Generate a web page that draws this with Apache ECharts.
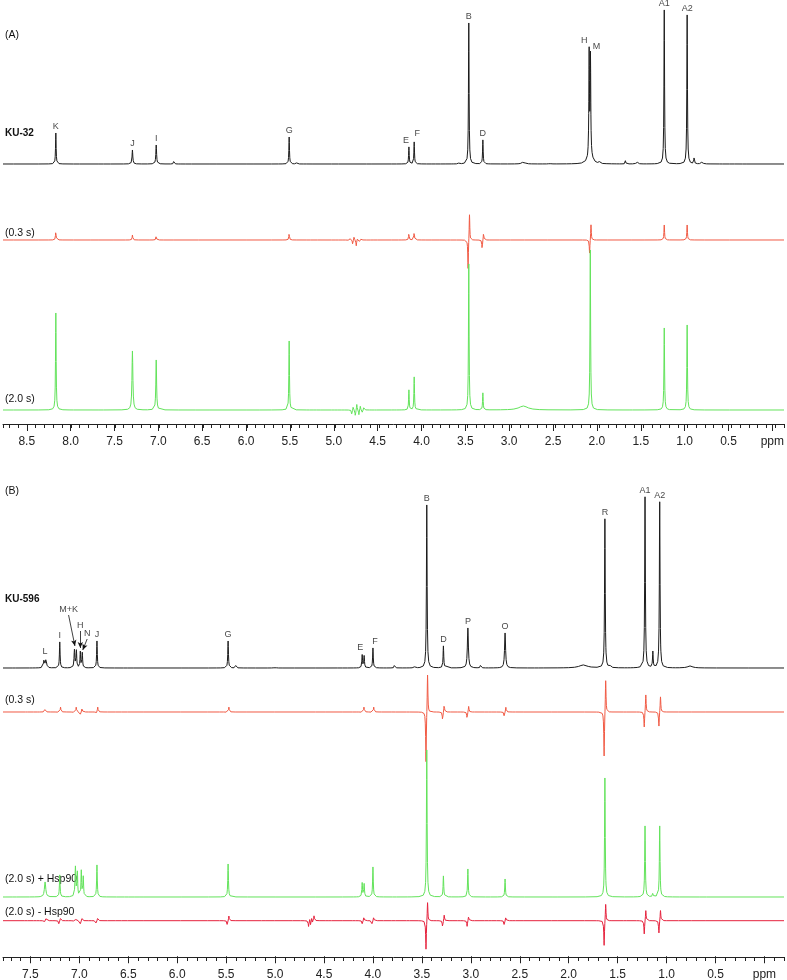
<!DOCTYPE html>
<html><head><meta charset="utf-8">
<script src="https://cdn.jsdelivr.net/npm/echarts@6/dist/echarts.min.js"></script>
<style>html,body{margin:0;padding:0;background:#fff}#c{width:787px;height:980px}</style>
</head><body><div id="c"></div>
<script>
// ================= DATA =================
// ppm axis ticks
const tickValuesA = [8.5, 8.0, 7.5, 7.0, 6.5, 6.0, 5.5, 5.0, 4.5, 4.0, 3.5, 3.0, 2.5, 2.0, 1.5, 1.0, 0.5, 0];
const tickLabelsA = ['8.5','8.0','7.5','7.0','6.5','6.0','5.5','5.0','4.5','4.0','3.5','3.0','2.5','2.0','1.5','1.0','0.5','ppm'];
const tickValuesB = [7.5, 7.0, 6.5, 6.0, 5.5, 5.0, 4.5, 4.0, 3.5, 3.0, 2.5, 2.0, 1.5, 1.0, 0.5, 0];
const tickLabelsB = ['7.5','7.0','6.5','6.0','5.5','5.0','4.5','4.0','3.5','3.0','2.5','2.0','1.5','1.0','0.5','ppm'];
const rangeA = [-0.10, 8.77];
const rangeB = [-0.20, 7.78];

// peaks: [ppm, intensity up, intensity down, linewidth(ppm, optional)]
// Panel A – KU-32 reference 1H spectrum
const ku32Ref = [
  [8.17, 31, 0], [7.30, 14, 0, 0.005], [7.03, 19, 0, 0.005], [6.83, 3, 0], [5.52, 27, 0], [5.44, 2, 0],
  [4.16, 17, 0], [4.10, 22, 0], [3.59, 3, 0, 0.003], [3.48, 141, 0], [3.32, 24, 0],
  [2.86, 2, 0, 0.02], [2.56, 2, 0], [2.113, 104, 0], [2.098, 98, 0], [2.10, 8, 0, 0.03],
  [2.00, 3, 0], [1.70, 4, 0, 0.003], [1.57, 2, 0, 0.01], [1.26, 154, 0], [1.00, 149, 0],
  [0.92, 7, 0], [0.83, 2, 0, 0.01]
];
// Panel A – STD 0.3 s
const ku32Std03 = [
  [8.17, 9, 0], [7.30, 5, 0], [7.03, 4, 0], [5.52, 7, 0],
  [4.83, 3, 2], [4.79, 4, 5], [4.75, 3, 6], [4.71, 2, 3],
  [4.16, 7, 0], [4.10, 8, 0], [3.48, 27, 30], [3.32, 8, 10], [2.10, 16, 14],
  [1.26, 15, 0], [1.00, 15, 0]
];
// Panel A – STD 2.0 s
const ku32Std20 = [
  [8.17, 97, 0], [7.30, 59, 0, 0.006], [7.03, 50, 0, 0.005], [5.52, 69, 0],
  [4.80, 4, 5], [4.76, 6, 7], [4.72, 4, 5], [4.68, 3, 3],
  [4.16, 20, 0], [4.10, 33, 0], [3.48, 146, 0], [3.32, 17, 0], [2.86, 4, 0, 0.06],
  [2.10, 160, 0], [1.26, 82, 0], [1.00, 85, 0]
];
// Panel B – KU-596 reference 1H spectrum
const ku596Ref = [
  [7.36, 9, 0, 0.006], [7.34, 9, 0, 0.006], [7.20, 26, 0], [7.05, 18, 0, 0.005], [7.03, 17, 0],
  [6.99, 16, 0], [6.97, 15, 0], [6.82, 27, 0], [5.48, 27, 0], [5.40, 3, 0], [5.00, 2, 0],
  [4.11, 13, 0], [4.09, 12, 0], [4.00, 20, 0], [3.78, 3, 0], [3.58, 2, 0],
  [3.45, 163, 0], [3.28, 22, 0], [3.03, 40, 0, 0.006], [2.90, 3, 0],
  [2.65, 35, 0, 0.006], [1.85, 3, 0, 0.05], [1.63, 149, 0], [1.57, 3, 0],
  [1.22, 171, 0], [1.14, 16, 0], [1.07, 166, 0], [0.76, 2, 0, 0.03]
];
// Panel B – STD 0.3 s
const ku596Std03 = [
  [7.35, 3, 0], [7.20, 5, 2], [7.04, 5, 3], [6.98, 4, 3], [6.82, 5, 2], [5.48, 5, 2],
  [4.10, 5, 2], [4.00, 5, 2], [3.45, 40, 52], [3.28, 8, 9], [3.03, 6, 7], [2.65, 5, 5],
  [1.63, 34, 46], [1.22, 18, 16], [1.07, 16, 15]
];
// Panel B – STD 2.0 s + Hsp90
const ku596Plus = [
  [7.35, 15, 0, 0.008], [7.20, 22, 0], [7.04, 30, 0, 0.005], [7.02, 24, 0], [6.98, 26, 0], [6.96, 20, 0],
  [6.82, 32, 0], [5.48, 33, 0], [4.11, 14, 0], [4.09, 13, 0], [4.00, 30, 0],
  [3.45, 147, 0], [3.28, 21, 0], [3.03, 28, 0], [2.65, 18, 0], [1.63, 119, 0],
  [1.22, 71, 0], [1.14, 4, 0], [1.07, 71, 0]
];
// Panel B – STD 2.0 s without Hsp90
const ku596Minus = [
  [7.35, 2, 2], [7.20, 3, 4], [7.04, 3, 3], [6.98, 3, 4], [6.82, 3, 3], [5.48, 5, 5],
  [4.65, 6, 6], [4.63, 7, 7], [4.61, 5, 5], [4.10, 4, 4], [4.00, 4, 4],
  [3.45, 20, 30], [3.28, 6, 7], [3.03, 5, 6], [2.65, 4, 5], [1.63, 18, 26],
  [1.22, 11, 14], [1.07, 11, 13]
];
// peak assignment labels: [text, ppm]
const labelsA = [['K', 8.17], ['J', 7.30], ['I', 7.03], ['G', 5.52], ['E', 4.16], ['F', 4.10], ['B', 3.48],
  ['D', 3.32], ['H', 2.113], ['M', 2.098], ['A1', 1.26], ['A2', 1.00]];
const labelsB = [['L', 7.35], ['I', 7.20], ['J', 6.82], ['G', 5.48], ['E', 4.11], ['F', 4.00], ['B', 3.45],
  ['D', 3.28], ['P', 3.03], ['O', 2.65], ['R', 1.63], ['A1', 1.22], ['A2', 1.07]];
// arrowed labels in panel B: [text, label ppm, label intensity, tip ppm, tip intensity]
const arrowLabelsB = [['M+K', 7.11, 54, 7.045, 22], ['H', 6.99, 38, 6.99, 20], ['N', 6.92, 30, 6.965, 18]];
// trace captions
const captionsA = ['(A)', 'KU-32', '(0.3 s)', '(2.0 s)'];
const captionsB = ['(B)', 'KU-596', '(0.3 s)', '(2.0 s) + Hsp90', '(2.0 s) - Hsp90'];

// ================= LAYOUT / STYLE =================
const BLACK = '#1c1c1c', RED = '#f15a44', GREEN = '#63e35b', RED2 = '#e6223d';
const FONT = '"Liberation Sans", Arial, sans-serif';
const spectra = [
  { peaks: ku32Ref,   range: rangeA, base: 164, color: BLACK },
  { peaks: ku32Std03, range: rangeA, base: 240, color: RED },
  { peaks: ku32Std20, range: rangeA, base: 410, color: GREEN },
  { peaks: ku596Ref,  range: rangeB, base: 668, color: BLACK },
  { peaks: ku596Std03,range: rangeB, base: 712, color: RED },
  { peaks: ku596Plus, range: rangeB, base: 897, color: GREEN },
  { peaks: ku596Minus,range: rangeB, base: 923, color: RED2 }
];
const DOWN = 60;

function components(peaks) {
  const comps = [];
  peaks.forEach(p => {
    const c = p[0], up = p[1], down = p[2], w = p[3] || 0.004;
    const s = (up > 0 && down > 0) ? 2 * w : 0;
    if (up > 0) comps.push([c - s, up, w]);
    if (down > 0) comps.push([c + s, -down, w]);
  });
  return comps;
}
function evalAt(comps, x) {
  return comps.reduce((s, [c, a, w]) => s + a / (1 + ((x - c) / w) ** 2), 0);
}
function buildCurve(peaks, lo, hi) {
  const comps = components(peaks);
  const xs = new Set([lo, hi]);
  const offs = [-120,-50,-20,-9,-5,-3,-1.8,-1,-0.5,0,0.5,1,1.8,3,5,9,20,50,120];
  comps.forEach(([c, a, w]) => offs.forEach(k => {
    const x = c + k * w; if (x > lo && x < hi) xs.add(+x.toFixed(5));
  }));
  return [...xs].sort((a, b) => b - a).map(x => [x, evalAt(comps, x)]);
}
function peakTop(peaks, ppm) {
  const comps = components(peaks);
  let m = 0;
  for (let d = -0.012; d <= 0.012; d += 0.0005) m = Math.max(m, evalAt(comps, ppm + d));
  return m;
}

const grids = [], xAxes = [], yAxes = [], series = [];
spectra.forEach((sp, i) => {
  const up = Math.min(200, sp.base - 1);
  grids.push({ left: 3, right: 3, top: sp.base - up, height: up + DOWN });
  xAxes.push({ type: 'value', gridIndex: i, min: sp.range[0], max: sp.range[1], inverse: true, show: false });
  yAxes.push({ type: 'value', gridIndex: i, min: -DOWN, max: up, show: false });
  series.push({
    type: 'line', xAxisIndex: i, yAxisIndex: i, data: buildCurve(sp.peaks, sp.range[0], sp.range[1]),
    showSymbol: false, symbol: 'none', silent: true, animation: false, clip: false,
    lineStyle: { width: 1, color: sp.color }
  });
});

// peak labels
const labelOffset = { A: { E: [-3, 0], F: [3, -2], H: [-5, 0], M: [6, 2] },
                      B: { E: [-2, 0], F: [2, 0] } };
function labelSeries(gridIdx, list, peaks, offs) {
  series.push({
    type: 'scatter', xAxisIndex: gridIdx, yAxisIndex: gridIdx, symbolSize: 0, silent: true, animation: false,
    data: list.map(([t, ppm]) => ({
      name: t, value: [ppm, peakTop(peaks, ppm)],
      label: { offset: offs[t] || [0, 0] }
    })),
    label: { show: true, position: 'top', distance: 2, formatter: '{b}', fontSize: 9, color: '#111', fontFamily: FONT }
  });
}
labelSeries(0, labelsA, ku32Ref, labelOffset.A);
labelSeries(3, labelsB, ku596Ref, labelOffset.B);
series.push({
  type: 'scatter', xAxisIndex: 3, yAxisIndex: 3, symbolSize: 0, silent: true, animation: false,
  data: arrowLabelsB.map(a => ({ name: a[0], value: [a[1], a[2]] })),
  label: { show: true, position: 'top', distance: 0, formatter: '{b}', fontSize: 9, color: '#111', fontFamily: FONT },
  markLine: {
    silent: true, animation: false, symbol: ['none', 'arrow'], symbolSize: [4, 6],
    lineStyle: { color: '#111', width: 0.8, type: 'solid' }, label: { show: false },
    data: arrowLabelsB.map(a => [{ coord: [a[1], a[2] - 1] }, { coord: [a[3], a[4]] }])
  }
});

// ppm axes: full-width line with 0.1 minor ticks + major ticks/labels every 0.5
function addAxis(range, y, vals, labels) {
  const W = 781, k = W / (range[1] - range[0]);
  const hi = Math.max(...vals), lo = Math.min(...vals);
  const g = grids.length;
  grids.push({ left: 3, width: W, top: y - 1, height: 1 });
  xAxes.push({
    type: 'value', gridIndex: g, min: range[0], max: range[1], interval: 0.1, inverse: true, position: 'bottom',
    axisLine: { show: true, onZero: false, lineStyle: { color: '#222', width: 1 } },
    splitLine: { show: false }, axisLabel: { show: false },
    axisTick: { show: true, length: 4, lineStyle: { color: '#222', width: 1 } }
  });
  yAxes.push({ type: 'value', gridIndex: g, min: 0, max: 1, show: false });
  const g2 = grids.length;
  grids.push({ left: 3 + (range[1] - hi) * k, width: (hi - lo) * k, top: y - 1, height: 1 });
  xAxes.push({
    type: 'value', gridIndex: g2, min: lo, max: hi, interval: 0.5, inverse: true, position: 'bottom',
    axisLine: { show: false, onZero: false }, splitLine: { show: false },
    axisTick: { show: true, length: 7, lineStyle: { color: '#222', width: 1 } },
    axisLabel: { show: true, margin: 12, fontSize: 12, color: '#222', fontFamily: FONT,
                 showMinLabel: true, showMaxLabel: true,
                 formatter: v => { const i = vals.findIndex(t => Math.abs(t - v) < 1e-6); return i >= 0 ? labels[i] : ''; } }
  });
  yAxes.push({ type: 'value', gridIndex: g2, min: 0, max: 1, show: false });
}
addAxis(rangeA, 424, tickValuesA, tickLabelsA);
addAxis(rangeB, 957, tickValuesB, tickLabelsB);

// captions
const capPos = [[5, 30, false], [5, 128, true], [5, 228, false], [5, 394, false],
                [5, 486, false], [5, 594, true], [5, 695, false], [5, 874, false], [5, 907, false]];
const allCaps = captionsA.concat(captionsB);
const graphic = allCaps.map((t, i) => ({
  type: 'text', left: capPos[i][0], top: capPos[i][1], silent: true,
  style: { text: t, fill: '#111', font: (capPos[i][2] ? 'bold 10px ' : '10.5px ') + FONT }
}));

const chart = echarts.init(document.getElementById('c'), null, { renderer: 'canvas' });
chart.setOption({
  backgroundColor: '#fff', animation: false,
  grid: grids, xAxis: xAxes, yAxis: yAxes, series: series, graphic: graphic
});
</script></body></html>
